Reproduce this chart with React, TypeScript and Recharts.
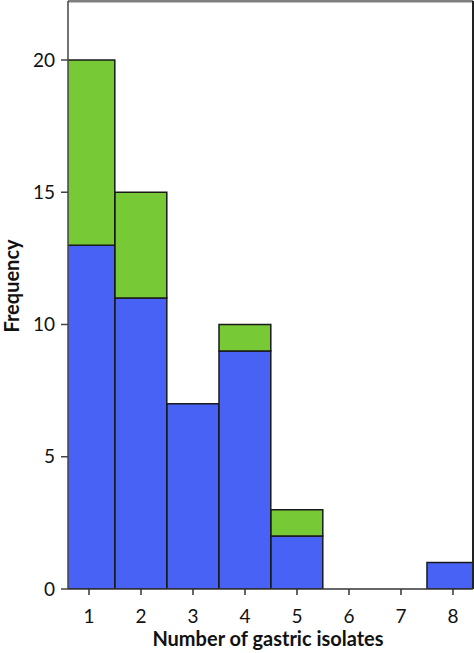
import React from 'react';
import { ComposedChart, Bar, XAxis, YAxis, ReferenceLine } from 'recharts';

const categories = [1, 2, 3, 4, 5, 6, 7, 8];
const blueValues = [13, 11, 7, 9, 2, 0, 0, 1];
const greenValues = [7, 4, 0, 1, 1, 0, 0, 0];
const yTicks = [0, 5, 10, 15, 20];

const X_MIN = 0.596;
const X_MAX = 8.385;
const Y_MAX = 22.23;

const data = categories.map((c, i) => ({ x: c, blue: blueValues[i], green: greenValues[i] }));

const FONT = 'Lato, "Open Sans", sans-serif';

const YLabel = () => (
  <text
    x={11}
    y={286}
    transform="rotate(-90, 11, 286)"
    textAnchor="middle"
    dominantBaseline="central"
    fill="#111"
    fontSize={20}
    fontWeight="bold"
    fontFamily={FONT}
  >
    Frequency
  </text>
);

const XLabel = () => (
  <text
    x={268}
    y={646}
    textAnchor="middle"
    fill="#111"
    fontSize={20}
    fontWeight="bold"
    fontFamily={FONT}
  >
    Number of gastric isolates
  </text>
);

export default function App() {
  return (
    <div style={{ position: 'absolute', left: 0, top: 0, width: 474, height: 653, background: '#fff' }}>
      <ComposedChart
        width={474}
        height={653}
        data={data}
        margin={{ top: 1, right: 1, left: 0, bottom: 0 }}
        barGap={0}
        barCategoryGap={0}
      >
        <XAxis
          dataKey="x"
          type="number"
          domain={[X_MIN, X_MAX]}
          ticks={categories}
          allowDataOverflow
          height={64}
          tickSize={6}
          tickMargin={15}
          stroke="#333"
          strokeWidth={1.5}
          tick={{ fill: '#111', fontSize: 19, fontFamily: FONT }}
          label={{ content: XLabel }}
        />
        <YAxis
          type="number"
          domain={[0, Y_MAX]}
          ticks={yTicks}
          allowDataOverflow
          width={68}
          tickSize={7}
          tickMargin={6}
          stroke="#444"
          strokeWidth={1.5}
          tick={{ fill: '#111', fontSize: 19, fontFamily: FONT }}
          label={{ content: YLabel }}
        />
        <ReferenceLine y={Y_MAX} stroke="#808080" strokeWidth={3} ifOverflow="visible" />
        <ReferenceLine x={X_MAX} stroke="#222" strokeWidth={2} ifOverflow="visible" />
        <Bar dataKey="blue" stackId="a" fill="#4862F5" stroke="#1a1a1a" strokeWidth={1.5} barSize={51.8} isAnimationActive={false} />
        <Bar dataKey="green" stackId="a" fill="#77C935" stroke="#1a1a1a" strokeWidth={1.5} barSize={51.8} isAnimationActive={false} />
      </ComposedChart>
    </div>
  );
}
